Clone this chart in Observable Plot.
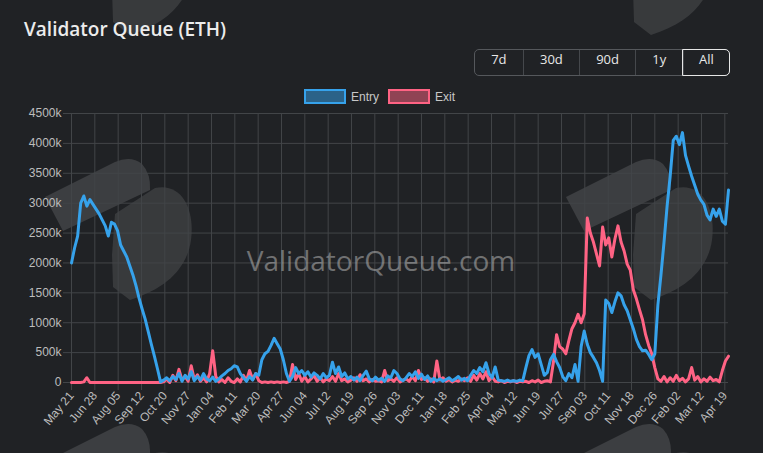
<!DOCTYPE html>
<html>
<head>
<meta charset="utf-8">
<script src="https://cdn.jsdelivr.net/npm/d3@7"></script>
<script src="https://cdn.jsdelivr.net/npm/@observablehq/plot@0.6"></script>
<style>
  html, body { margin: 0; padding: 0; background: #202225; overflow: hidden; }
  #wrap { position: relative; width: 763px; height: 453px; background: #202225; overflow: hidden; }
  #bg { position: absolute; left: 0; top: 0; z-index: 0; }
  #header { position: relative; height: 100px; z-index: 1; }
  #title { position: absolute; left: 24px; top: 17px; font: 600 19px/24px "Open Sans", sans-serif; color: #ececec; white-space: nowrap; }
  #btns { position: absolute; left: 474px; top: 49px; height: 27px; display: flex; border: 1px solid #55585c; border-radius: 5px; box-sizing: border-box; }
  #btns div { height: 25px; line-height: 25px; padding: 0 16.2px; font: 13px "Open Sans", sans-serif; color: #e8e8e8; border-left: 1px solid #45484c; box-sizing: border-box; }
  #btns div:first-child { border-left: none; }
  #btns div.active { outline: 1px solid #e6e6e6; border-radius: 0 4px 4px 0; padding: 0 15.5px; }
  #legend { position: absolute; left: 304px; top: 89px; display: flex; align-items: center; font: 12px "Liberation Sans", Arial, sans-serif; color: #c8c8c8; }
  #legend .sw { width: 38px; height: 11px; border: 2px solid; margin-right: 5px; }
  #legend .item { display: flex; align-items: center; margin-right: 9px; }
  #chart { position: relative; z-index: 1; }
</style>
</head>
<body>
<div id="wrap">
  <svg id="bg" width="763" height="453"></svg>
  <div id="header">
    <div id="title"></div>
    <div id="btns"></div>
    <div id="legend"></div>
  </div>
  <div id="chart"></div>
</div>
<script>
// ---- Data ----
const titleText = "Validator Queue (ETH)";
const rangeButtons = ["7d", "30d", "90d", "1y", "All"];
const activeRange = "All";
const seriesNames = ["Entry", "Exit"];
const seriesColors = ["#36a2eb", "#ff6384"];
const seriesFills = ["rgba(54,162,235,0.5)", "rgba(255,99,132,0.5)"];
const watermarkText = "ValidatorQueue.com";

// sampled every 5 days starting 2023-05-21 (values in thousands of ETH)
const startDate = "2023-05-21";
const stepDays = 5;

const entry = [
  2000, 2250, 2450, 3000, 3120, 2950, 3060, 2980, 2900, 2820,
  2720, 2620, 2450, 2680, 2650, 2540, 2300, 2200, 2100, 1950,
  1800, 1620, 1410, 1230, 1060, 850, 640, 440, 230, 10,
  40, 80, 30, 100, 50, 150, 20, 120, 60, 180,
  30, 100, 40, 150, 60, 30, 90, 20, 60, 110,
  150, 200, 230, 280, 260, 150, 80, 20, 100, 40,
  150, 120, 380, 480, 520, 620, 740, 650, 560, 380,
  150, 20, 100, 250, 150, 200, 120, 180, 90, 160,
  120, 60, 150, 80, 120, 340, 150, 260, 100, 160,
  60, 100, 40, 90, 30, 120, 190, 60, 30, 90,
  40, 70, 20, 110, 80, 200, 150, 60, 30, 80,
  150, 100, 180, 70, 140, 50, 110, 20, 70, 30,
  60, 20, 50, 80, 30, 60, 100, 40, 70, 30,
  120, 200, 150, 250, 180, 330, 150, 80, 260, 40,
  30, 20, 40, 20, 30, 20, 40, 30, 250, 450,
  550, 420, 480, 300, 120, 170, 380, 470, 350, 250,
  100, 30, 150, 80, 300, 20, 600, 860, 640, 500,
  420, 330, 200, 20, 1380, 1320, 1170, 1350, 1500, 1450,
  1300, 1200, 1050, 900, 720, 600, 530, 540, 470, 380,
  480, 1300, 1800, 2350, 2950, 3450, 4050, 4120, 3980, 4180,
  3800, 3620, 3450, 3300, 3150, 3050, 2980, 2800, 2720, 2900,
  2780, 2900, 2700, 2650, 3220
];

const exit = [
  0, 0, 0, 0, 10, 80, 0, 0, 0, 0,
  0, 0, 0, 0, 0, 0, 0, 0, 0, 0,
  0, 0, 0, 0, 0, 0, 0, 0, 0, 0,
  10, 60, 0, 120, 30, 220, 40, 100, 20, 280,
  50, 130, 20, 80, 10, 150, 530, 100, 10, 50,
  0, 80, 20, 0, 60, 10, 120, 30, 200, 50,
  150, 30, 0, 10, 0, 10, 0, 10, 0, 10,
  0, 20, 300, 50, 150, 20, 100, 10, 60, 120,
  20, 80, 10, 60, 30, 100, 20, 150, 30, 60,
  10, 40, 80, 20, 130, 30, 60, 10, 50, 20,
  30, 10, 200, 30, 60, 20, 80, 10, 40, 60,
  20, 100, 30, 200, 50, 80, 20, 60, 10, 360,
  40, 80, 20, 50, 10, 40, 20, 60, 30, 80,
  20, 120, 40, 150, 60, 180, 30, 100, 20, 10,
  30, 0, 20, 10, 30, 0, 20, 10, 20, 0,
  30, 10, 40, 0, 20, 30, 10, 350, 800, 600,
  560, 480, 700, 900, 1000, 1140, 1000, 1150, 2750, 2500,
  2350, 2150, 1950, 2600, 2300, 2420, 2100, 2400, 2620, 2350,
  2200, 1980, 1880, 1550, 1400, 1220, 1050, 800, 620, 480,
  250, 60, 20, 100, 10, 80, 20, 120, 30, 70,
  10, 60, 250, 40, 100, 10, 60, 20, 90, 30,
  50, 10, 200, 360, 440
];

const xTicks = [
  "2023-05-21","2023-06-28","2023-08-05","2023-09-12","2023-10-20","2023-11-27",
  "2024-01-04","2024-02-11","2024-03-20","2024-04-27","2024-06-04","2024-07-12",
  "2024-08-19","2024-09-26","2024-11-03","2024-12-11","2025-01-18","2025-02-25",
  "2025-04-04","2025-05-12","2025-06-19","2025-07-27","2025-09-03","2025-10-11",
  "2025-11-18","2025-12-26","2026-02-02","2026-03-12","2026-04-19"
];
const yTicks = [0, 500, 1000, 1500, 2000, 2500, 3000, 3500, 4000, 4500];

// ---- Header ----
document.getElementById("title").textContent = titleText;
const btns = document.getElementById("btns");
rangeButtons.forEach(r => {
  const d = document.createElement("div");
  d.textContent = r;
  if (r === activeRange) d.className = "active";
  btns.appendChild(d);
});
const legend = document.getElementById("legend");
seriesNames.forEach((n, i) => {
  const it = document.createElement("div");
  it.className = "item";
  const sw = document.createElement("div");
  sw.className = "sw";
  sw.style.borderColor = seriesColors[i];
  sw.style.background = seriesFills[i];
  const t = document.createElement("span");
  t.textContent = n;
  it.appendChild(sw); it.appendChild(t);
  legend.appendChild(it);
});

// ---- Background watermark logos (decorative) ----
const bg = d3.select("#bg");
const logoParts = [
  ["M566,197 L636,162 Q652,155 663,164 Q672,174 671,190 L584,231 Z", 0.13],
  ["M636,214 L676,188 C703,182 716,210 712,240 C708,268 688,288 651,300 L634,287 L633,255 Z", 0.11]
];
[[0,0],[-521,0],[0,-265],[-521,-265],[0,265],[-521,265]].forEach(([dx, dy]) => {
  const g = bg.append("g").attr("transform", `translate(${dx},${dy})`);
  logoParts.forEach(([p, a]) => g.append("path").attr("d", p).attr("fill", `rgba(255,255,255,${a})`));
});

// ---- Chart ----
const parse = d3.utcParse("%Y-%m-%d");
const t0 = parse(startDate);
const rows = entry.map((v, i) => ({
  date: d3.utcDay.offset(t0, i * stepDays),
  entry: v,
  exit: exit[i]
}));
const tickDates = xTicks.map(parse);
const gridColor = "#424548";

const chart = Plot.plot({
  width: 763,
  height: 353,
  marginTop: 13,
  marginBottom: 71,
  marginLeft: 71,
  marginRight: 35,
  style: { background: "transparent", color: "#bdbdbd", fontFamily: "'Liberation Sans', Arial, sans-serif", fontSize: "12px", overflow: "visible" },
  x: { type: "utc", domain: [rows[0].date, rows[rows.length - 1].date] },
  y: { domain: [0, 4500] },
  marks: [
    Plot.gridY(yTicks, { stroke: gridColor, strokeOpacity: 1 }),
    Plot.gridX(tickDates, { stroke: gridColor, strokeOpacity: 1 }),
    Plot.text([watermarkText], { frameAnchor: "middle", dx: -19, dy: 14, fontSize: 28, fill: "#c0c0c0", fillOpacity: 0.5, fontFamily: "'Open Sans', sans-serif" }),
    Plot.axisY(yTicks, { tickSize: 8, tickPadding: 2, stroke: gridColor, fill: "#bdbdbd", label: null, tickFormat: d => d === 0 ? "0" : d + "k" }),
    Plot.axisX(tickDates, { tickSize: 8, tickPadding: 3, tickRotate: -50, stroke: gridColor, fill: "#bdbdbd", label: null, tickFormat: d3.utcFormat("%b %d") }),
    Plot.lineY(rows, { x: "date", y: "exit", stroke: seriesColors[1], strokeWidth: 3 }),
    Plot.lineY(rows, { x: "date", y: "entry", stroke: seriesColors[0], strokeWidth: 3 })
  ]
});
document.getElementById("chart").appendChild(chart);
</script>
</body>
</html>
